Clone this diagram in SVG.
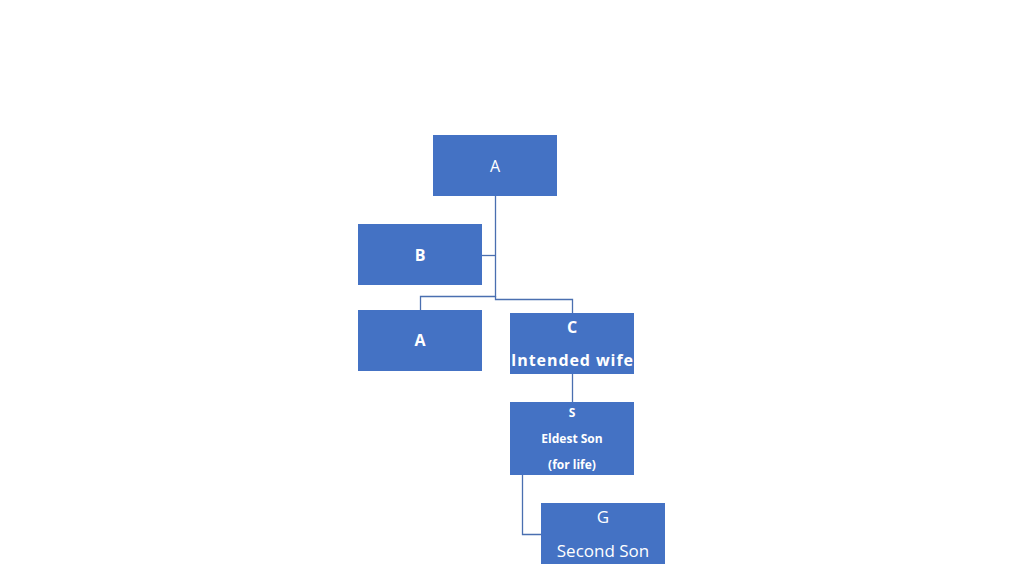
<svg xmlns="http://www.w3.org/2000/svg" width="1024" height="576" viewBox="0 0 1024 576">
<style>
.n{fill:#4472C4}
.t{font-family:"Open Sans","Liberation Sans",sans-serif;fill:#fff;text-anchor:middle}
.b{font-weight:bold}
.c{fill:none;stroke:#4a6fb0;stroke-width:1.3}
</style>
<rect width="1024" height="576" fill="#fff"/>
<g id="connectors">
<path class="c" d="M495.5 196V296.5H420.5V310"/>
<path class="c" d="M495.5 296V299.5H572.5V313"/>
<path class="c" d="M482 255.5H495.5"/>
<path class="c" d="M572.5 374V402"/>
<path class="c" d="M522.5 475V534.5H541"/>
</g>
<g id="nA"><rect class="n" x="433" y="135" width="124" height="61"/><text class="t" x="495" y="172" font-size="16">A</text></g>
<g id="nB"><rect class="n" x="358" y="224" width="124" height="61"/><text class="t b" x="420" y="261" font-size="16">B</text></g>
<g id="nA2"><rect class="n" x="358" y="310" width="124" height="61"/><text class="t b" x="420" y="346" font-size="16">A</text></g>
<g id="nC"><rect class="n" x="510" y="313" width="124" height="61"/><text class="t b" x="572" y="333" font-size="16">C</text><text class="t b" x="572" y="366" font-size="16" textLength="122">Intended wife</text></g>
<g id="nS"><rect class="n" x="510" y="402" width="124" height="73"/><text class="t b" x="572" y="417" font-size="12">S</text><text class="t b" x="572" y="443" font-size="12">Eldest Son</text><text class="t b" x="572" y="469" font-size="12">(for life)</text></g>
<g id="nG"><rect class="n" x="541" y="503" width="124" height="61"/><text class="t" x="603" y="523" font-size="17">G</text><text class="t" x="603" y="557" font-size="17">Second Son</text></g>
</svg>
